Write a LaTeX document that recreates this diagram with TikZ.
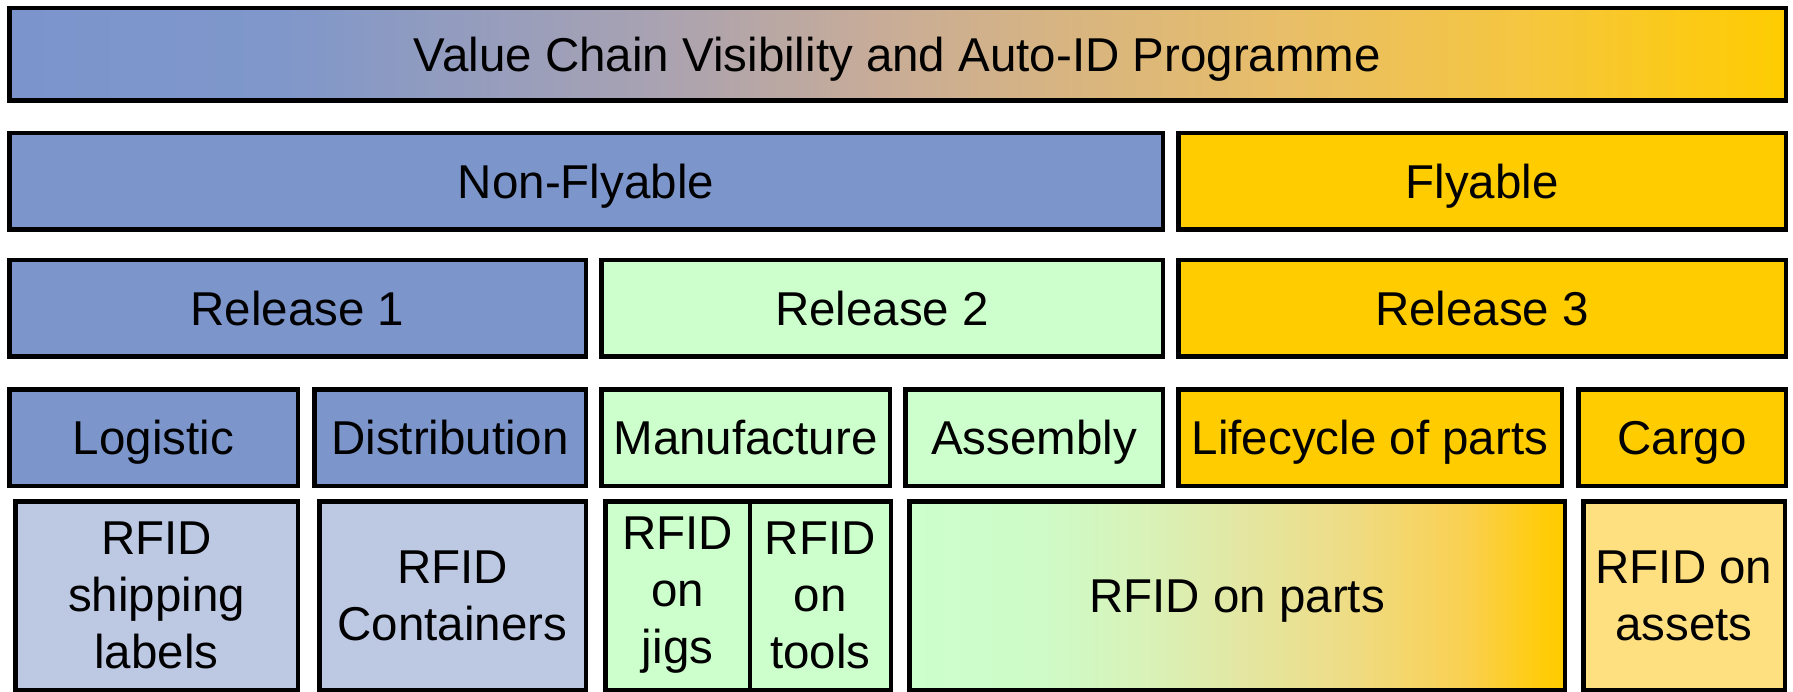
\documentclass[tikz,border=0pt]{standalone}
\usepackage{fontspec}
\setmainfont{Liberation Sans}
\definecolor{cblue}{HTML}{7C95CB}
\definecolor{clblue}{HTML}{BDC8E3}
\definecolor{cgreen}{HTML}{CCFFCC}
\definecolor{cgold}{HTML}{FFCC00}
\definecolor{clgold}{HTML}{FFE080}
\definecolor{tA}{HTML}{7B95CC}
\definecolor{tB}{HTML}{7F97CA}
\definecolor{tC}{HTML}{A8A2B2}
\definecolor{tD}{HTML}{C8AC98}
\definecolor{tE}{HTML}{D8B580}
\definecolor{tF}{HTML}{E8BE68}
\definecolor{tG}{HTML}{F5C640}
\definecolor{pA}{HTML}{CCFFCC}
\definecolor{pB}{HTML}{CEFBC8}
\definecolor{pC}{HTML}{D8F2B8}
\definecolor{pD}{HTML}{E2E8A5}
\definecolor{pE}{HTML}{EEDC85}
\definecolor{pF}{HTML}{FAD050}
\definecolor{pG}{HTML}{FFCC08}
\pgfdeclarehorizontalshading{topgrad}{100bp}{color(0bp)=(tA); color(25bp)=(tA); color(32.5bp)=(tB); color(43bp)=(tC); color(49.5bp)=(tD); color(55bp)=(tE); color(61bp)=(tF); color(67.5bp)=(tG); color(75bp)=(cgold); color(100bp)=(cgold)}
\pgfdeclarehorizontalshading{partsgrad}{100bp}{color(0bp)=(pA); color(25bp)=(pA); color(35bp)=(pB); color(43bp)=(pC); color(49.5bp)=(pD); color(58.5bp)=(pE); color(67.5bp)=(pF); color(73.5bp)=(pG); color(75bp)=(cgold); color(100bp)=(cgold)}
\tikzset{
  box/.style={draw=black, line width=4.5pt, inner sep=0pt, outer sep=0pt, rectangle,
    align=center, text=black, font=\fontsize{47.5}{57}\selectfont},
  oneline/.style={text height=34pt, text depth=0pt},
  rowtwo/.style={box, oneline, minimum height=96.5pt},
  rowfive/.style={box, minimum height=188.5pt},
}
\begin{document}
\begin{tikzpicture}[x=1pt, y=-1pt]
\useasboundingbox[fill=white] (0,0) rectangle (1793,692);
% top
\node[box, oneline, shade, shading=topgrad, minimum width=1776.5pt, minimum height=92.5pt] (top) at (897.5,54.5) {Value Chain Visibility and Auto-ID Programme};
% row 2
\node[rowtwo, fill=cblue, minimum width=1153.5pt] (nonfly) at (586,181.5) {Non-Flyable};
\node[rowtwo, fill=cgold, minimum width=607.5pt] (fly) at (1482,181.5) {Flyable};
% row 3
\node[rowtwo, fill=cblue, minimum width=576.5pt] (rel1) at (297.5,308.5) {Release 1};
\node[rowtwo, fill=cgreen, minimum width=561.5pt] (rel2) at (882,308.5) {Release 2};
\node[rowtwo, fill=cgold, minimum width=607.5pt] (rel3) at (1482,308.5) {Release 3};
% row 4
\node[rowtwo, fill=cblue, minimum width=288.5pt] (logistic) at (153.5,437.5) {Logistic};
\node[rowtwo, fill=cblue, minimum width=271.5pt] (distrib) at (450,437.5) {Distribution};
\node[rowtwo, fill=cgreen, minimum width=288.5pt] (manuf) at (745.5,437.5) {Manufacture};
\node[rowtwo, fill=cgreen, minimum width=257.5pt] (assembly) at (1034,437.5) {Assembly};
\node[rowtwo, fill=cgold, minimum width=383.5pt] (lifecycle) at (1370,437.5) {Lifecycle of parts};
\node[rowtwo, fill=cgold, minimum width=207.5pt] (cargo) at (1682,437.5) {Cargo};
% row 5
\node[rowfive, fill=clblue, minimum width=282.5pt] (ship) at (156.5,595.5) {RFID\\shipping\\labels};
\node[rowfive, fill=clblue, minimum width=266.5pt] (cont) at (452.5,595.5) {RFID\\Containers};
\node[rowfive, fill=cgreen, minimum width=144.75pt] (jigs) at (677.625,595.5) {RFID\\on\\jigs};
\node[rowfive, fill=cgreen, minimum width=140.75pt] (tools) at (820.375,595.5) {RFID\\on\\tools};
\node[rowfive, oneline, shade, shading=partsgrad, minimum width=655.5pt] (parts) at (1237,595.5) {RFID on parts};
\node[rowfive, fill=clgold, minimum width=201.5pt] (assets) at (1684,595.5) {RFID on\\assets};
\end{tikzpicture}
\end{document}
